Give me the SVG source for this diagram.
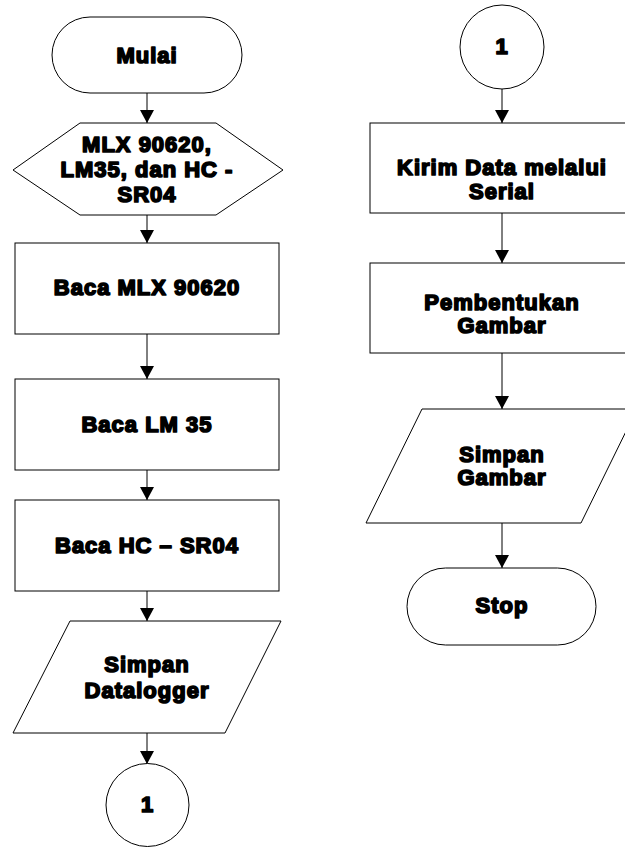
<svg xmlns="http://www.w3.org/2000/svg" width="625" height="847" viewBox="0 0 625 847">
<defs>
<marker id="ah" viewBox="0 0 13 14" refX="13" refY="7" markerWidth="13" markerHeight="14" markerUnits="userSpaceOnUse" orient="auto">
<path d="M0,0 L13,7 L0,14 Z" fill="#000"/>
</marker>
<style>
.s{fill:#fff;stroke:#000;stroke-width:1}
.t{font-family:"Arial Black","Liberation Sans",Arial,sans-serif;font-weight:bold;font-size:22px;fill:#000;stroke:#000;stroke-width:1.7;stroke-linejoin:round;letter-spacing:1px;text-anchor:middle}
.c{fill:none;stroke:#000;stroke-width:1;marker-end:url(#ah)}
</style>
</defs>
<rect width="625" height="847" fill="#fff"/>
<g id="connectors">
<line class="c" x1="147" y1="93" x2="147" y2="123"/>
<line class="c" x1="147" y1="215" x2="147" y2="243"/>
<line class="c" x1="147" y1="334" x2="147" y2="379"/>
<line class="c" x1="147" y1="470" x2="147" y2="500"/>
<line class="c" x1="147" y1="591" x2="147" y2="621"/>
<line class="c" x1="147" y1="733" x2="147" y2="764"/>
<line class="c" x1="502" y1="89" x2="502" y2="123"/>
<line class="c" x1="502" y1="213" x2="502" y2="263"/>
<line class="c" x1="502" y1="353" x2="502" y2="409"/>
<line class="c" x1="502" y1="523" x2="502" y2="568"/>
</g>
<g id="mulai">
<rect class="s" x="52" y="17" width="190" height="76" rx="38" ry="38"/>
<text class="t" x="147" y="63">Mulai</text>
</g>
<g id="input">
<polygon class="s" points="13,170 80,123 216,123 283,170 216,215 80,215"/>
<text class="t" x="147" y="152">MLX 90620,</text>
<text class="t" x="147" y="177">LM35, dan HC -</text>
<text class="t" x="147" y="202">SR04</text>
</g>
<g id="baca-mlx">
<rect class="s" x="15" y="243" width="264" height="91"/>
<text class="t" x="147" y="295">Baca MLX 90620</text>
</g>
<g id="baca-lm">
<rect class="s" x="15" y="379" width="264" height="91"/>
<text class="t" x="147" y="432">Baca LM 35</text>
</g>
<g id="baca-hc">
<rect class="s" x="15" y="500" width="264" height="91"/>
<text class="t" x="147" y="553">Baca HC – SR04</text>
</g>
<g id="simpan-datalogger">
<polygon class="s" points="70,621 281,621 225,733 13,733"/>
<text class="t" x="147" y="672">Simpan</text>
<text class="t" x="147" y="698">Datalogger</text>
</g>
<g id="conn-left">
<circle class="s" cx="147.5" cy="805" r="41.5"/>
<text class="t" x="147.5" y="812">1</text>
</g>
<g id="conn-right">
<circle class="s" cx="502" cy="47" r="42"/>
<text class="t" x="502" y="54">1</text>
</g>
<g id="kirim">
<rect class="s" x="370" y="123" width="264" height="90"/>
<text class="t" x="502" y="175">Kirim Data melalui</text>
<text class="t" x="502" y="199">Serial</text>
</g>
<g id="pembentukan">
<rect class="s" x="370" y="263" width="264" height="90"/>
<text class="t" x="502" y="310">Pembentukan</text>
<text class="t" x="502" y="333">Gambar</text>
</g>
<g id="simpan-gambar">
<polygon class="s" points="422,409 637,409 581,523 366,523"/>
<text class="t" x="502" y="462">Simpan</text>
<text class="t" x="502" y="485">Gambar</text>
</g>
<g id="stop">
<rect class="s" x="407" y="568" width="189" height="77" rx="38.5" ry="38.5"/>
<text class="t" x="502" y="613">Stop</text>
</g>
</svg>
